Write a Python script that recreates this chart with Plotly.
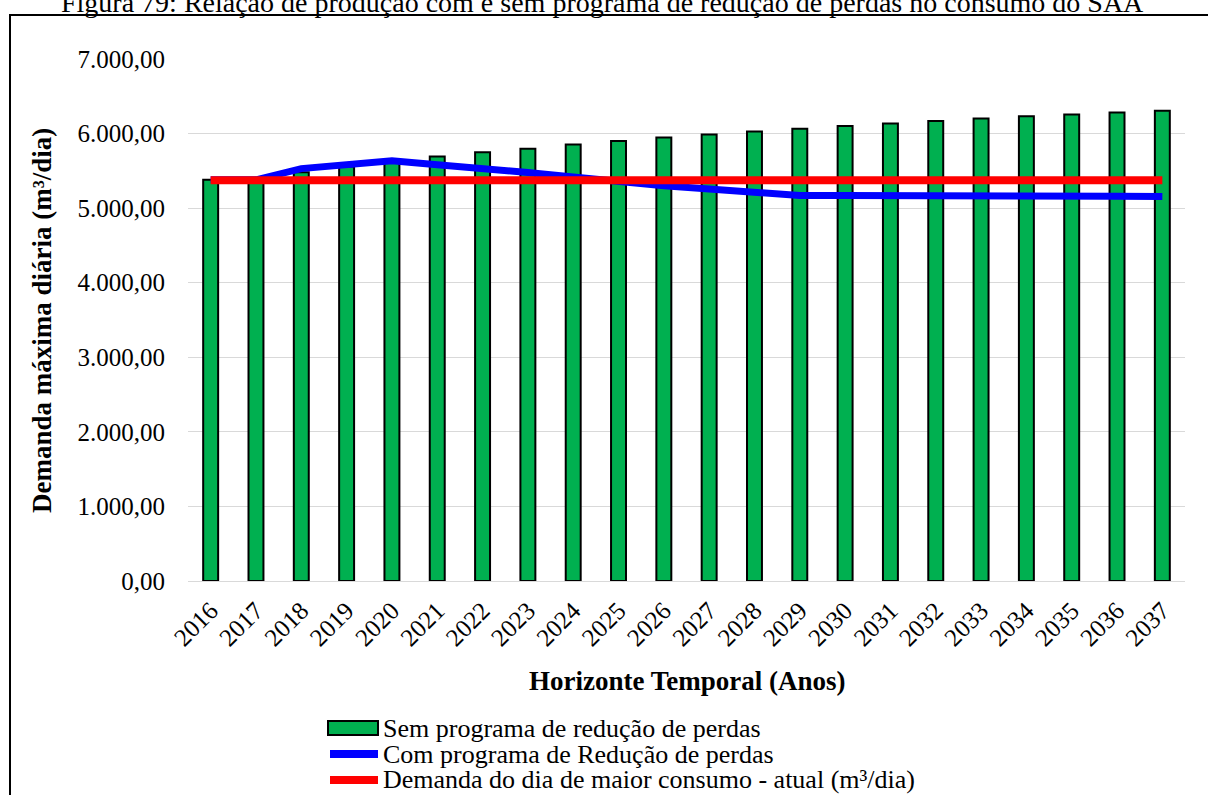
import plotly.graph_objects as go

# Series data
anos = [str(a) for a in range(2016, 2038)]
sem_programa = [5380, 5400, 5480, 5560, 5630, 5691, 5749, 5798, 5852, 5901, 5946,
                5987, 6027, 6063, 6103, 6135, 6170, 6202, 6233, 6256, 6283, 6305]
com_programa = [5380, 5380, 5530, 5590, 5637, 5583, 5538, 5479, 5417, 5350, 5300,
                5256, 5210, 5170, 5168, 5170, 5172, 5172, 5170, 5165, 5160, 5155]
demanda_atual = [5375] * len(anos)

nomes = ["Sem programa de redução de perdas",
         "Com programa de Redução de perdas",
         "Demanda do dia de maior consumo - atual (m³/dia)"]
titulo = "Figura 79: Relação de produção com e sem programa de redução de perdas no consumo do SAA"

W, H = 1208, 795
L, R, T, B = 188, 23, 59, 214
PW, PH = W - L - R, H - T - B


def px(x):
    return (x - L) / PW


def py(y):
    return (H - B - y) / PH


FONT = "Liberation Serif"
VERDE, AZUL, VERMELHO = "#00B050", "#0000FF", "#FF0000"

fig = go.Figure()
fig.add_trace(go.Bar(x=anos, y=sem_programa, name=nomes[0],
                     marker=dict(color=VERDE, line=dict(color="black", width=2))))
fig.add_trace(go.Scatter(x=anos, y=com_programa, name=nomes[1], mode="lines",
                         line=dict(color=AZUL, width=7)))
fig.add_trace(go.Scatter(x=anos, y=demanda_atual, name=nomes[2], mode="lines",
                         line=dict(color=VERMELHO, width=8)))

shapes = [
    # outer frame
    dict(type="rect", xref="paper", yref="paper", x0=px(10), x1=px(1215),
         y0=py(800), y1=py(15), line=dict(color="black", width=2), layer="below"),
]
annotations = [
    dict(text=titulo, xref="paper", yref="paper", x=px(602), y=py(3),
         xanchor="center", yanchor="middle", showarrow=False,
         font=dict(family=FONT, size=28, color="black")),
    dict(text="<b>Demanda máxima diária (m³/dia)</b>", xref="paper", yref="paper",
         x=px(42), y=py(321), xanchor="center", yanchor="middle", textangle=-90,
         showarrow=False, font=dict(family=FONT, size=27, color="black")),
    dict(text="<b>Horizonte Temporal (Anos)</b>", xref="paper", yref="paper",
         x=px(687), y=py(681), xanchor="center", yanchor="middle",
         showarrow=False, font=dict(family=FONT, size=27, color="black")),
]

# legend drawn as swatches plus text rows
linhas_y = [728, 754, 780]
sw_x0, sw_x1 = 328, 378
shapes.append(dict(type="rect", xref="paper", yref="paper",
                   x0=px(sw_x0), x1=px(sw_x1), y0=py(linhas_y[0] + 7), y1=py(linhas_y[0] - 7),
                   fillcolor=VERDE, line=dict(color="black", width=2)))
for yy, cor in zip(linhas_y[1:], [AZUL, VERMELHO]):
    shapes.append(dict(type="line", xref="paper", yref="paper",
                       x0=px(sw_x0 + 2), x1=px(sw_x1), y0=py(yy), y1=py(yy),
                       line=dict(color=cor, width=8)))
for yy, nome in zip(linhas_y, nomes):
    annotations.append(dict(text=nome, xref="paper", yref="paper", x=px(381), y=py(yy),
                            xanchor="left", yanchor="middle", showarrow=False,
                            font=dict(family=FONT, size=26, color="black")))

fig.update_layout(
    width=W, height=H,
    margin=dict(l=L, r=R, t=T, b=B, autoexpand=False),
    paper_bgcolor="white", plot_bgcolor="white",
    separators=",.",
    showlegend=False,
    bargap=0.67,
    font=dict(family=FONT, size=25, color="black"),
    shapes=shapes, annotations=annotations,
)
fig.update_xaxes(type="category", tickangle=-45, showgrid=False,
                 showline=True, linecolor="#D9D9D9", linewidth=1,
                 ticklabelstandoff=4,
                 tickfont=dict(family=FONT, size=25, color="black"), ticks="")
fig.update_yaxes(range=[0, 7000], dtick=1000, tickformat=",.2f",
                 showgrid=True, gridcolor="#D9D9D9", gridwidth=1,
                 zeroline=False, showline=False, ticks="",
                 ticklabelstandoff=22,
                 tickfont=dict(family=FONT, size=25, color="black"))

fig.write_html("out.html")
